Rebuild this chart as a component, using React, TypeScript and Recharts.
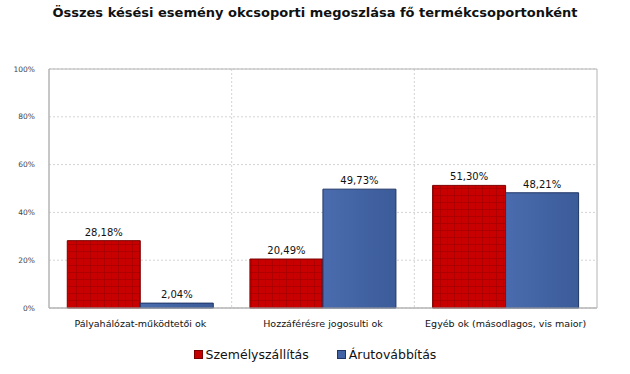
import {
  BarChart, Bar, XAxis, YAxis, CartesianGrid, LabelList, ReferenceArea,
} from 'recharts'

const categories = [
  'Pályahálózat-működtetői ok',
  'Hozzáférésre jogosulti ok',
  'Egyéb ok (másodlagos, vis maior)',
]
const szemely = [28.18, 20.49, 51.3]
const aru = [2.04, 49.73, 48.21]
const yTicks = [0, 20, 40, 60, 80, 100]

const SERIES = [
  { key: 'szemely', name: 'Személyszállítás', color: '#c40000', border: '#7a0000' },
  { key: 'aru', name: 'Árutovábbítás', color: '#4163a3', border: '#1f3566' },
]

const data = categories.map((c, i) => ({ cat: c, szemely: szemely[i], aru: aru[i] }))

const fmtPct = (v: number) => `${v.toFixed(2).replace('.', ',')}%`

const FONT = '"DejaVu Sans", Verdana, sans-serif'

function LegendBox() {
  return (
    <div style={{
      position: 'absolute', top: 347, left: 0, width: 630,
      display: 'flex', justifyContent: 'center', gap: 28, fontFamily: FONT, fontSize: 12.5, color: '#111',
    }}>
      {SERIES.map((s) => (
        <div key={s.key} style={{ display: 'flex', alignItems: 'center' }}>
          <span style={{
            width: 7, height: 7, background: s.color, border: `1px solid ${s.border}`,
            marginRight: 3, display: 'inline-block',
          }} />
          {s.name}
        </div>
      ))}
    </div>
  )
}

export default function App() {
  return (
    <div style={{ position: 'absolute', left: 0, top: 0, width: 630, height: 374, background: '#fff' }}>
      <div style={{
        position: 'absolute', top: 5, left: 0, width: 630, textAlign: 'center',
        fontFamily: FONT, fontWeight: 'bold', fontSize: 13, color: '#111',
      }}>
        Összes késési esemény okcsoporti megoszlása fő termékcsoportonként
      </div>
      <BarChart
        width={630}
        height={374}
        data={data}
        margin={{ top: 69, right: 33, left: 9, bottom: 36 }}
        barCategoryGap="10%"
        barGap={0}
      >
        <defs>
          <pattern id="redGrid" width="7" height="7" patternUnits="userSpaceOnUse">
            <rect width="7" height="7" fill="#c80000" />
            <path d="M6.5 0 V7 M0 6.5 H7" stroke="#a40000" strokeWidth="0.7" />
          </pattern>
          <linearGradient id="blueGrad" x1="0" y1="0" x2="1" y2="0">
            <stop offset="0%" stopColor="#4a6cae" />
            <stop offset="100%" stopColor="#3b5b99" />
          </linearGradient>
        </defs>
        <CartesianGrid
          stroke="#d4d4d4"
          strokeDasharray="2 2"
          verticalCoordinatesGenerator={({ offset }: any) => [
            offset.left + offset.width / 3,
            offset.left + (2 * offset.width) / 3,
          ]}
        />
        <ReferenceArea y1={0} y2={100} fill="none" stroke="#b4b4b4" strokeWidth={1} ifOverflow="visible" />
        <XAxis
          dataKey="cat"
          height={30}
          tick={{ fontSize: 9.5, fill: '#111', fontFamily: FONT }}
          axisLine={{ stroke: '#b4b4b4' }}
          tickLine={false}
          tickMargin={6}
        />
        <YAxis
          domain={[0, 100]}
          ticks={yTicks}
          tickFormatter={(v: number) => `${v}%`}
          width={40}
          tick={{ fontSize: 7.5, fill: '#444', fontFamily: FONT }}
          axisLine={{ stroke: '#b4b4b4' }}
          tickLine={false}
          tickMargin={8}
          interval={0}
        />
        <Bar dataKey="szemely" name="Személyszállítás" fill="url(#redGrid)" stroke="#7a0000" strokeWidth={1} isAnimationActive={false}>
          <LabelList dataKey="szemely" position="top" offset={5} formatter={(v: any) => fmtPct(Number(v))}
            style={{ fontSize: 10, fill: '#111', fontFamily: FONT }} />
        </Bar>
        <Bar dataKey="aru" name="Árutovábbítás" fill="url(#blueGrad)" stroke="#1f3566" strokeWidth={1} isAnimationActive={false}>
          <LabelList dataKey="aru" position="top" offset={5} formatter={(v: any) => fmtPct(Number(v))}
            style={{ fontSize: 10, fill: '#111', fontFamily: FONT }} />
        </Bar>
      </BarChart>
      <LegendBox />
    </div>
  )
}
